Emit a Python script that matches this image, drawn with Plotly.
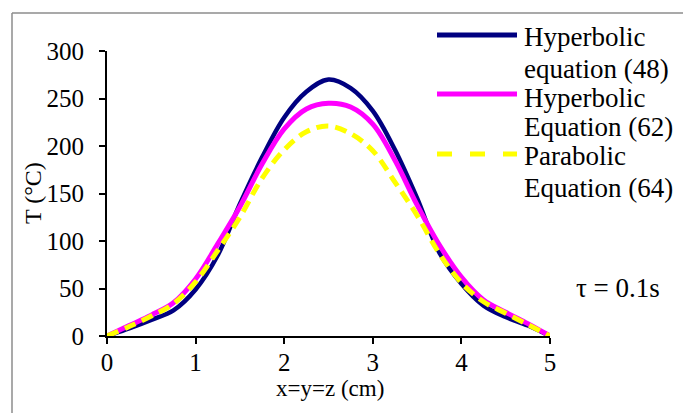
import plotly.graph_objects as go

x = [0, 0.25, 0.5, 0.75, 1.0, 1.25, 1.5, 1.75, 2.0, 2.25, 2.5, 2.75, 3.0, 3.25, 3.5, 3.75, 4.0, 4.25, 4.5, 4.75, 5.0]
hyper48 = [0, 8, 17, 27, 49, 85, 139, 188, 230, 257, 270, 261, 237, 196, 145, 88, 55, 32, 20, 11, 0]
hyper62 = [0, 11, 22, 35, 60, 97, 136, 181, 218, 239, 245, 241, 223, 185, 138, 96, 62, 38, 25, 13, 0]
parab64 = [0, 10, 21, 34, 57, 90, 125, 166, 196, 215, 221, 213, 195, 162, 127, 87, 56, 36, 24, 12, 0]

names = ["Hyperbolic<br>equation (48)", "Hyperbolic<br>Equation (62)", "Parabolic<br>Equation (64)"]
x_ticks = [0, 1, 2, 3, 4, 5]
y_ticks = [0, 50, 100, 150, 200, 250, 300]

FONT = "Liberation Serif"
TICK_SIZE = 25

fig = go.Figure()
fig.add_trace(go.Scatter(x=x, y=hyper48, mode="lines", line=dict(color="#000080", width=4.5, shape="spline"), name=names[0]))
fig.add_trace(go.Scatter(x=x, y=hyper62, mode="lines", line=dict(color="#ff00ff", width=5, shape="spline"), name=names[1]))
fig.add_trace(go.Scatter(x=x, y=parab64, mode="lines", line=dict(color="#ffff00", width=5, shape="spline", dash="12px,7px"), name=names[2]))

W, H = 683, 413
L, R, T, B = 107, 133, 51, 77
pw, ph = W - L - R, H - T - B

def px(p):
    return (p - L) / pw

def py(p):
    return (H - B - p) / ph

shapes = [
    dict(type="line", xref="paper", yref="paper", x0=px(12), x1=px(W + 5), y0=py(13), y1=py(13), line=dict(color="#8c8c8c", width=1.5)),
    dict(type="line", xref="paper", yref="paper", x0=px(12), x1=px(12), y0=py(13), y1=py(H + 5), line=dict(color="#8c8c8c", width=1.5)),
]
annotations = []
leg_colors = ["#000080", "#ff00ff", "#ffff00"]
leg_y = [35, 94, 154]
text_y = [(37, 69), (98, 127), (156, 188)]
for i, nm in enumerate(names):
    dash = "solid" if i < 2 else "15px,18px"
    shapes.append(dict(type="line", xref="paper", yref="paper", x0=px(437), x1=px(517), y0=py(leg_y[i]), y1=py(leg_y[i]),
                       line=dict(color=leg_colors[i], width=5, dash=dash)))
    for line_txt, yy in zip(nm.split("<br>"), text_y[i]):
        annotations.append(dict(xref="paper", yref="paper", x=px(522), y=py(yy), xanchor="left", yanchor="middle",
                                text=line_txt, showarrow=False, font=dict(family=FONT, size=27, color="black")))

annotations += [
    dict(xref="paper", yref="paper", x=px(330), y=py(388), text="x=y=z (cm)", showarrow=False,
         xanchor="center", yanchor="middle", font=dict(family=FONT, size=23, color="black")),
    dict(xref="paper", yref="paper", x=px(33), y=py(193), text="T (°C)", showarrow=False, textangle=-90,
         xanchor="center", yanchor="middle", font=dict(family=FONT, size=24, color="black")),
    dict(xref="paper", yref="paper", x=px(618), y=py(288), text="τ = 0.1s", showarrow=False,
         xanchor="center", yanchor="middle", font=dict(family=FONT, size=27, color="black")),
]

fig.update_layout(
    width=W, height=H, margin=dict(l=L, r=R, t=T, b=B, pad=0),
    paper_bgcolor="white", plot_bgcolor="white", showlegend=False,
    font=dict(family=FONT, size=TICK_SIZE, color="black"),
    shapes=shapes, annotations=annotations,
)
fig.update_xaxes(range=[0, 5], tickvals=x_ticks, ticktext=[str(v) for v in x_ticks], showgrid=False, zeroline=False,
                 showline=True, linecolor="black", linewidth=2, ticks="outside", ticklen=6, tickwidth=2, tickcolor="black",
                 tickfont=dict(family=FONT, size=TICK_SIZE, color="black"), ticklabelstandoff=-3)
fig.update_yaxes(range=[0, 300], tickvals=y_ticks, ticktext=[str(v) for v in y_ticks], showgrid=False, zeroline=False,
                 showline=True, linecolor="black", linewidth=2, ticks="outside", ticklen=6, tickwidth=2, tickcolor="black",
                 tickfont=dict(family=FONT, size=TICK_SIZE, color="black"), ticklabelstandoff=10)

fig.write_html("out.html")
